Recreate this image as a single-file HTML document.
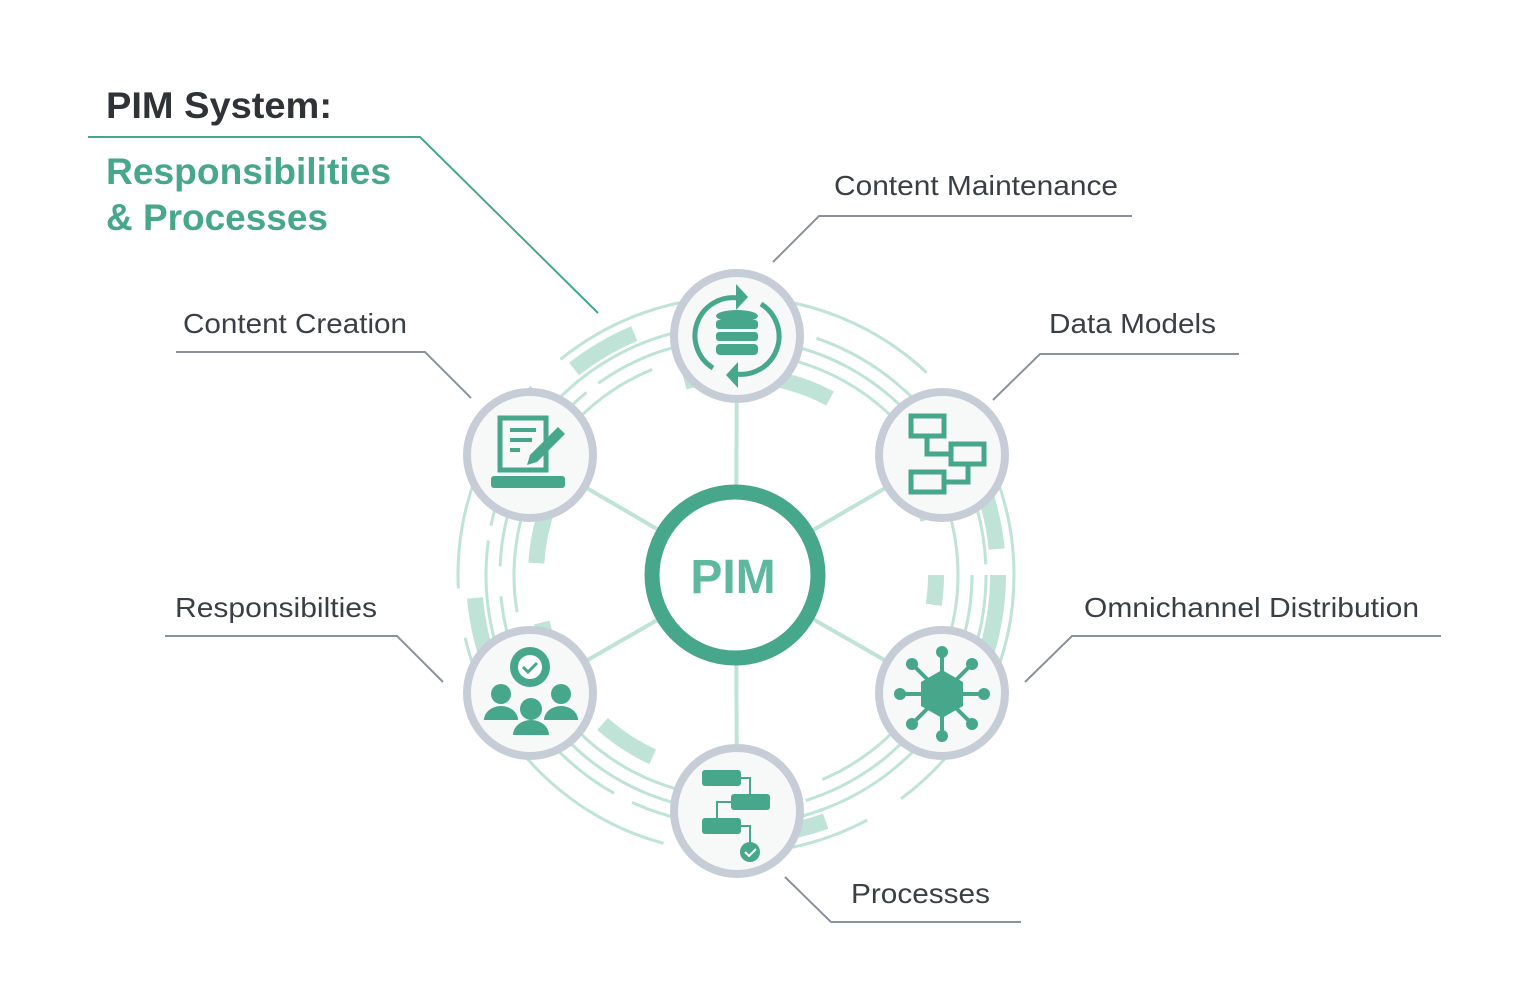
<!DOCTYPE html>
<html><head><meta charset="utf-8"><style>
body{margin:0;background:#fff;width:1536px;height:1000px;overflow:hidden;font-family:"Liberation Sans",sans-serif}
</style></head><body>
<svg width="1536" height="1000" viewBox="0 0 1536 1000" xmlns="http://www.w3.org/2000/svg" font-family="Liberation Sans, sans-serif">
<g fill="none" stroke="#bfe3d7">
 <circle cx="736" cy="575" r="278" stroke-width="3" stroke-dasharray="260 40 180 30 300 50 220 40 400 30"/>
 <circle cx="736" cy="575" r="250" stroke-width="3" stroke-dasharray="500 20 300 15 400 25 300"/>
 <circle cx="736" cy="575" r="236" stroke-width="3" stroke-dasharray="300 20 400 30 200 15 400"/>
 <circle cx="736" cy="575" r="222" stroke-width="3" stroke-dasharray="260 30 350 20 300 40"/>
 <circle cx="736" cy="575" r="262" stroke-width="16" stroke-dasharray="90 230 60 300 120 260 70 400"/>
 <circle cx="736" cy="575" r="200" stroke-width="16" stroke-dasharray="30 40 80 120 40 90 60 100 20 60 100 150"/>
</g>
<g stroke="#bfe3d7" stroke-width="4">
 <line x1="736" y1="575" x2="737" y2="336"/><line x1="736" y1="575" x2="737" y2="811"/>
 <line x1="736" y1="575" x2="530" y2="455"/><line x1="736" y1="575" x2="942" y2="455"/>
 <line x1="736" y1="575" x2="530" y2="693"/><line x1="736" y1="575" x2="942" y2="693"/>
</g>
<circle cx="735" cy="575" r="83" fill="#fff" stroke="#47a78b" stroke-width="15"/>
<text x="733" y="593" text-anchor="middle" font-size="48" font-weight="bold" fill="#5db89d">PIM</text>
<g fill="#f7f8f8" stroke="#c6cdd7" stroke-width="8">
 <circle cx="737" cy="336" r="63"/><circle cx="530" cy="455" r="63"/><circle cx="942" cy="455" r="63"/>
 <circle cx="530" cy="693" r="63"/><circle cx="942" cy="693" r="63"/><circle cx="737" cy="811" r="63"/>
</g>
<g fill="#47a78b" stroke="none">
 <path d="M713 368a38 38 0 0 1 25-70" fill="none" stroke="#47a78b" stroke-width="5"/>
 <path d="M761 304a38 38 0 0 1-25 70" fill="none" stroke="#47a78b" stroke-width="5"/>
 <path d="M736 284l12 13-12 13z"/><path d="M738 362l-12 13 12 13z"/>
 <ellipse cx="737" cy="316" rx="21" ry="6"/><rect x="716" y="320" width="42" height="9" rx="3"/><rect x="716" y="332" width="42" height="9" rx="3"/><rect x="716" y="344" width="42" height="11" rx="4"/>
 <rect x="491" y="476" width="74" height="12" rx="3"/>
 <rect x="500" y="418" width="46" height="52" fill="none" stroke="#47a78b" stroke-width="5"/>
 <rect x="510" y="428" width="26" height="4"/><rect x="510" y="438" width="22" height="4"/><rect x="510" y="448" width="10" height="4"/>
 <path d="M530 455l28-28 7 7-28 28-10 3z"/>
 <g fill="none" stroke="#47a78b" stroke-width="5"><rect x="911" y="416" width="33" height="20"/><rect x="951" y="444" width="33" height="20"/><rect x="911" y="472" width="33" height="20"/><path d="M927 436v18h24M944 482h24v-18"/></g>
 <circle cx="530" cy="667" r="20"/><circle cx="530" cy="667" r="12" fill="#fff"/>
 <path d="M523 667l5 5 9-9" fill="none" stroke="#47a78b" stroke-width="3"/>
 <circle cx="501" cy="694" r="10"/><circle cx="561" cy="694" r="10"/><circle cx="531" cy="709" r="11"/>
 <path d="M484 720a17 14 0 0 1 34 0z"/><path d="M544 720a17 14 0 0 1 34 0z"/><path d="M513 735a18 15 0 0 1 36 0z"/>
 <path d="M942 670l21 12v24l-21 12-21-12v-24z"/>
 <g stroke="#47a78b" stroke-width="4"><line x1="942" y1="694" x2="942" y2="652"/><line x1="942" y1="694" x2="942" y2="736"/><line x1="942" y1="694" x2="900" y2="694"/><line x1="942" y1="694" x2="984" y2="694"/><line x1="942" y1="694" x2="912" y2="664"/><line x1="942" y1="694" x2="972" y2="664"/><line x1="942" y1="694" x2="912" y2="724"/><line x1="942" y1="694" x2="972" y2="724"/></g>
 <circle cx="942" cy="652" r="6"/><circle cx="942" cy="736" r="6"/><circle cx="900" cy="694" r="6"/><circle cx="984" cy="694" r="6"/><circle cx="912" cy="664" r="6"/><circle cx="972" cy="664" r="6"/><circle cx="912" cy="724" r="6"/><circle cx="972" cy="724" r="6"/>
 <rect x="702" y="770" width="39" height="16" rx="3"/><rect x="731" y="794" width="39" height="16" rx="3"/><rect x="702" y="818" width="39" height="16" rx="3"/>
 <path d="M741 778h9v16M731 802h-14v16M741 826h9v18" fill="none" stroke="#47a78b" stroke-width="2"/>
 <circle cx="750" cy="852" r="10"/>
 <path d="M745 852l4 4 7-7" fill="none" stroke="#fff" stroke-width="2"/>
</g>
<g fill="none" stroke="#8a929b" stroke-width="2">
 <path d="M773 262l46-46h313"/>
 <path d="M993 400l47-46h199"/>
 <path d="M1025 682l47-46h369"/>
 <path d="M785 877l46 45h190"/>
 <path d="M176 352h249l46 46"/>
 <path d="M165 636h232l46 46"/>
</g>
<path d="M88 137h332l178 176" fill="none" stroke="#47a78b" stroke-width="2"/>
<g font-size="28" fill="#3a3f46">
 <text x="834" y="195" textLength="284" lengthAdjust="spacingAndGlyphs">Content Maintenance</text>
 <text x="1049" y="333" textLength="167" lengthAdjust="spacingAndGlyphs">Data Models</text>
 <text x="1084" y="617" textLength="335" lengthAdjust="spacingAndGlyphs">Omnichannel Distribution</text>
 <text x="851" y="903" textLength="139" lengthAdjust="spacingAndGlyphs">Processes</text>
 <text x="183" y="333" textLength="224" lengthAdjust="spacingAndGlyphs">Content Creation</text>
 <text x="175" y="617" textLength="202" lengthAdjust="spacingAndGlyphs">Responsibilties</text>
</g>
<text x="106" y="118" font-size="37" font-weight="bold" fill="#2f3338" textLength="226" lengthAdjust="spacingAndGlyphs">PIM System:</text>
<text x="106" y="184" font-size="37" font-weight="bold" fill="#47a78b" textLength="285" lengthAdjust="spacingAndGlyphs">Responsibilities</text>
<text x="106" y="230" font-size="37" font-weight="bold" fill="#47a78b" textLength="222" lengthAdjust="spacingAndGlyphs">&amp; Processes</text>
</svg>
</body></html>
